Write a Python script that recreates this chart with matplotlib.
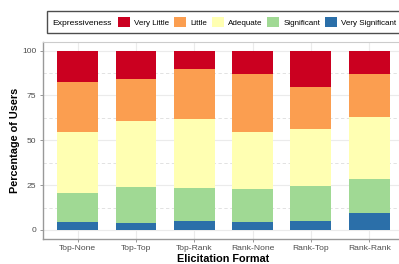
import numpy as np
import matplotlib
matplotlib.use("Agg")
from matplotlib import pyplot as plt
from matplotlib.patches import Patch
from matplotlib.offsetbox import HPacker

plt.rcParams["font.family"] = ["Liberation Sans", "DejaVu Sans"]

# data: percentage of users per level, per elicitation format
formats = ["Top-None", "Top-Top", "Top-Rank", "Rank-None", "Rank-Top", "Rank-Rank"]
levels = ["Very Little", "Little", "Adequate", "Significant", "Very Significant"]
very_significant = [4.4, 3.7, 4.8, 4.4, 4.8, 9.4]
significant = [16.3, 20.2, 18.7, 18.4, 19.5, 19.1]
adequate = [33.9, 36.8, 38.5, 31.8, 32.2, 34.5]
little = [27.8, 23.4, 27.6, 32.3, 23.3, 24.2]
very_little = [17.6, 15.9, 10.4, 13.1, 20.2, 12.8]

colors = {"Very Little": "#CB0020", "Little": "#FB9E50", "Adequate": "#FFFFB2",
          "Significant": "#A0D994", "Very Significant": "#2B6FA9"}

fig = plt.figure(figsize=(3.99, 2.64), dpi=100)
ax = fig.add_axes([0.107, 0.095, 0.906, 0.747])

x = np.arange(len(formats))
stack = [("Very Significant", very_significant), ("Significant", significant),
         ("Adequate", adequate), ("Little", little), ("Very Little", very_little)]
bottom = np.zeros(len(formats))
for name, vals in stack:
    vals = np.array(vals)
    ax.bar(x, vals, bottom=bottom, width=0.7, color=colors[name], edgecolor="none", zorder=3)
    bottom += vals

ax.set_xlim(-0.6, len(formats) - 0.4)
ax.set_ylim(-5, 105)
ax.set_xticks(x)
ax.set_xticklabels(formats, fontsize=6.1, color="#4d4d4d")
ax.set_yticks([0, 25, 50, 75, 100])
ax.set_yticklabels(["0", "25", "50", "75", "100"], fontsize=6.1, color="#4d4d4d")
ax.tick_params(axis="both", length=2.5, width=0.6, color="#888888", pad=2)

ax.grid(axis="y", color="#ebebeb", linewidth=0.8, zorder=0)
ax.grid(axis="x", color="#ebebeb", linewidth=0.8, zorder=0)
for yy in [12.5, 37.5, 62.5, 87.5]:
    ax.axhline(yy, color="#dddddd", linewidth=0.6, linestyle=(0, (4, 3)), zorder=0)

for s in ["top", "right"]:
    ax.spines[s].set_color("#cccccc")
    ax.spines[s].set_linewidth(0.8)
for s in ["left", "bottom"]:
    ax.spines[s].set_color("#999999")
    ax.spines[s].set_linewidth(1.0)

ax.set_ylabel("Percentage of Users", fontsize=7.8, fontweight="bold", labelpad=1.5)
ax.set_xlabel("Elicitation Format", fontsize=7.8, fontweight="bold", labelpad=1.5)

handles = [Patch(facecolor=colors[l], edgecolor="none") for l in levels]
leg = fig.legend(handles, levels, loc="center left", bbox_to_anchor=(0.117, 0.917),
                 borderaxespad=0, ncol=5, fontsize=5.8, frameon=True, fancybox=False,
                 handlelength=1.5, handleheight=1.55, handletextpad=0.55, columnspacing=0.55,
                 borderpad=0.75, title="Expressiveness", title_fontsize=6.1)
leg.get_frame().set_edgecolor("#222222")
leg.get_frame().set_linewidth(1.0)
# title inline on the left, ggplot style
title_box = leg._legend_title_box
handle_box = leg._legend_handle_box
leg._legend_box._children = [HPacker(pad=0, sep=4, children=[title_box, handle_box], align="baseline")]

fig.savefig("out.png", dpi=100)
